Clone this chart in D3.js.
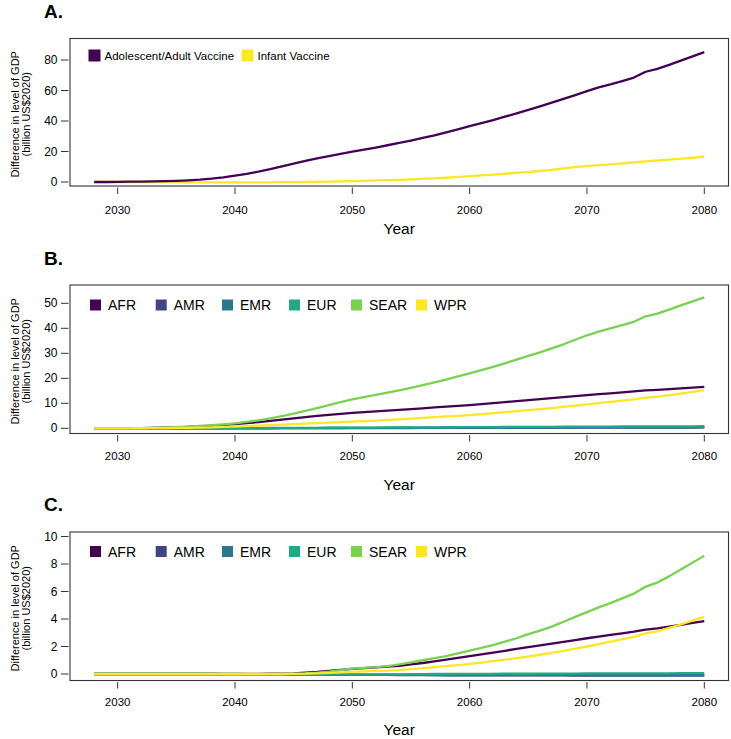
<!DOCTYPE html>
<html><head><meta charset="utf-8">
<script src="https://cdn.jsdelivr.net/npm/d3@7"></script>
<style>
html,body{margin:0;padding:0;background:#fff;}
text{font-family:"Liberation Sans",Arial,Helvetica,sans-serif;fill:#000;}
</style></head>
<body><svg id="chart" width="731" height="739"></svg>
<script>
// ---------------- DATA ----------------
const years = d3.range(2028, 2081);
const xTicks = [2030, 2040, 2050, 2060, 2070, 2080];

// Panel A
const seriesA = ["Adolescent/Adult Vaccine", "Infant Vaccine"];
const colorsA = ["#440154", "#FDE725"];
const A_adult = [0.0,0.0,0.1,0.2,0.3,0.4,0.6,0.8,1.1,1.5,
  2.2,3.1,4.2,5.4,6.8,8.4,10.2,12.1,13.9,15.5,
  17.0,18.5,19.9,21.2,22.6,24.1,25.6,27.2,28.9,30.6,
  32.5,34.5,36.6,38.6,40.6,42.8,45.0,47.3,49.6,52.0,
  54.5,57.0,59.6,62.0,64.0,66.2,68.5,72.3,74.2,76.8,
  79.6,82.4,85.2];
const A_infant = [0,0,0,0,0,-0.1,-0.1,-0.1,-0.2,-0.2,
  -0.2,-0.2,-0.2,-0.2,-0.2,-0.2,-0.1,-0.1,0.0,0.1,
  0.2,0.4,0.6,0.8,1.0,1.2,1.4,1.7,2.0,2.4,
  2.8,3.3,3.8,4.3,4.8,5.4,6.0,6.6,7.2,7.9,
  8.9,9.7,10.4,11.0,11.6,12.2,12.8,13.5,14.1,14.7,
  15.3,15.9,16.6];
const yTicksA = [0, 20, 40, 60, 80];

// Regions (panels B and C)
const regions = ["AFR", "AMR", "EMR", "EUR", "SEAR", "WPR"];
const regionColors = ["#440154", "#414487", "#2A788E", "#22A884", "#7AD151", "#FDE725"];

const B_AFR = [0,0,0,0.05,0.1,0.2,0.3,0.4,0.6,0.8,
  1.0,1.3,1.7,2.1,2.5,3.0,3.5,4.0,4.5,5.0,
  5.4,5.8,6.2,6.5,6.8,7.1,7.4,7.7,8.0,8.4,
  8.7,9.0,9.3,9.7,10.1,10.5,10.9,11.3,11.7,12.1,
  12.5,12.9,13.3,13.7,14.0,14.4,14.8,15.2,15.4,15.7,
  16.0,16.3,16.6];
const B_AMR = [0,0,0,0,0,0,0,0,0,0,
  0,0,0.01,0.02,0.02,0.03,0.04,0.05,0.05,0.06,
  0.07,0.08,0.09,0.1,0.1,0.11,0.12,0.13,0.14,0.15,
  0.15,0.16,0.17,0.18,0.19,0.2,0.2,0.21,0.22,0.23,
  0.24,0.25,0.25,0.26,0.27,0.28,0.29,0.3,0.3,0.31,
  0.32,0.33,0.34];
const B_EMR = [0,0,0,0,0,0,0,0,0.01,0.01,
  0.02,0.03,0.04,0.05,0.06,0.07,0.08,0.09,0.1,0.11,
  0.12,0.13,0.14,0.15,0.16,0.17,0.18,0.19,0.2,0.21,
  0.22,0.23,0.24,0.25,0.26,0.27,0.28,0.29,0.3,0.31,
  0.32,0.33,0.34,0.35,0.36,0.37,0.38,0.39,0.4,0.41,
  0.42,0.43,0.44];
const B_EUR = [0,0,0,0,0,0,0,0.01,0.02,0.03,
  0.04,0.05,0.07,0.09,0.11,0.13,0.15,0.17,0.19,0.21,
  0.23,0.25,0.27,0.29,0.31,0.33,0.35,0.37,0.39,0.41,
  0.43,0.45,0.47,0.49,0.51,0.53,0.55,0.57,0.59,0.61,
  0.63,0.65,0.67,0.69,0.7,0.72,0.74,0.76,0.77,0.78,
  0.79,0.8,0.82];
const B_SEAR = [0,0,0,0.05,0.1,0.2,0.3,0.5,0.7,1.0,
  1.3,1.6,2.0,2.6,3.2,4.0,4.9,5.9,7.0,8.1,
  9.3,10.5,11.6,12.5,13.4,14.3,15.2,16.2,17.3,18.4,
  19.5,20.8,22.0,23.3,24.6,26.0,27.5,29.0,30.4,32.0,
  33.6,35.4,37.2,38.7,40.0,41.3,42.6,44.8,45.9,47.5,
  49.2,50.8,52.4];
const B_WPR = [0,0,0,0,0.02,0.05,0.1,0.15,0.2,0.3,
  0.4,0.55,0.7,0.9,1.1,1.3,1.5,1.7,1.9,2.1,
  2.3,2.5,2.7,2.9,3.1,3.4,3.6,3.9,4.2,4.5,
  4.8,5.0,5.3,5.7,6.1,6.5,6.9,7.3,7.7,8.1,
  8.6,9.1,9.6,10.1,10.6,11.1,11.6,12.3,12.7,13.3,
  13.9,14.6,15.3];
const yTicksB = [0, 10, 20, 30, 40, 50];

const C_AFR = [0,0,0,0,0,0,0,0,0,0,
  0,0,0,0,0.01,0.02,0.03,0.05,0.1,0.15,
  0.22,0.3,0.38,0.43,0.48,0.53,0.6,0.7,0.8,0.92,
  1.04,1.17,1.3,1.43,1.56,1.69,1.82,1.95,2.08,2.21,
  2.34,2.47,2.6,2.72,2.84,2.96,3.08,3.22,3.32,3.45,
  3.58,3.72,3.85];
const C_AMR = [0,0,0,0,0,0,0,0,0,0,
  0,-0.01,-0.01,-0.02,-0.02,-0.03,-0.03,-0.04,-0.04,-0.05,
  -0.05,-0.06,-0.06,-0.07,-0.07,-0.07,-0.08,-0.08,-0.08,-0.08,
  -0.09,-0.09,-0.09,-0.09,-0.1,-0.1,-0.1,-0.1,-0.1,-0.1,
  -0.1,-0.11,-0.11,-0.11,-0.11,-0.11,-0.11,-0.12,-0.12,-0.12,
  -0.12,-0.12,-0.12];
const C_EMR = [0,0,0,0,0,0,0,0,0,0,
  0,-0.01,-0.01,-0.01,-0.02,-0.02,-0.03,-0.03,-0.04,-0.04,
  -0.05,-0.05,-0.06,-0.06,-0.06,-0.07,-0.07,-0.07,-0.07,-0.08,
  -0.08,-0.08,-0.08,-0.08,-0.08,-0.08,-0.08,-0.08,-0.08,-0.08,
  -0.08,-0.08,-0.08,-0.08,-0.08,-0.08,-0.08,-0.08,-0.08,-0.08,
  -0.08,-0.08,-0.08];
const C_EUR = [0,0,0,0,0,0,0,0,0,0,
  0,0,0,-0.01,-0.01,-0.01,-0.02,-0.02,-0.02,-0.03,
  -0.03,-0.03,-0.03,-0.03,-0.02,-0.02,-0.02,-0.01,-0.01,0,
  0,0,0.01,0.01,0.01,0.02,0.02,0.02,0.03,0.03,
  0.03,0.03,0.04,0.04,0.04,0.04,0.05,0.05,0.05,0.05,
  0.06,0.06,0.06];
const C_SEAR = [0,0,0,0,0,0,0,0,0,0,
  0,-0.01,-0.02,-0.02,-0.02,-0.01,0,0.02,0.05,0.1,
  0.18,0.28,0.4,0.45,0.5,0.58,0.7,0.85,1.0,1.15,
  1.3,1.5,1.7,1.9,2.1,2.35,2.6,2.9,3.15,3.45,
  3.8,4.15,4.5,4.85,5.15,5.5,5.85,6.35,6.65,7.1,
  7.6,8.1,8.6];
const C_WPR = [0,0,0,0,0,0,0,0,0,0,
  0,0,0,0,0,0,0,0.01,0.02,0.05,
  0.08,0.12,0.16,0.19,0.22,0.24,0.28,0.35,0.42,0.5,
  0.57,0.65,0.73,0.83,0.93,1.04,1.15,1.27,1.4,1.54,
  1.69,1.84,2.0,2.17,2.35,2.52,2.7,2.95,3.1,3.35,
  3.6,3.88,4.15];
const yTicksC = [0, 2, 4, 6, 8, 10];

const panelTitles = ["A.", "B.", "C."];
const xLabel = "Year";
const yLabel1 = "Difference in level of GDP";
const yLabel2 = "(billion US$2020)";

// ---------------- LAYOUT ----------------
const svg = d3.select("#chart");
const boxL = 70, boxR = 728.5;
const x = d3.scaleLinear().domain([2028, 2080]).range([94.2, 704.3]);

const panels = [
  { title: panelTitles[0], top: 38.5, bottom: 186, y: d3.scaleLinear().domain([0, 80]).range([182, 60]),
    ticks: yTicksA, series: [A_infant, A_adult], colors: [colorsA[1], colorsA[0]],
    legend: seriesA, legendColors: colorsA, legendFont: 11.5, legendX: [88.5, 241.5], legendY: 55.5, sq: 12,
    titleY: 18, tickLabY: 214, yearY: 234 },
  { title: panelTitles[1], top: 285, bottom: 433.5, y: d3.scaleLinear().domain([0, 50]).range([428.3, 303.3]),
    ticks: yTicksB, series: [B_AFR, B_AMR, B_EMR, B_EUR, B_SEAR, B_WPR], colors: regionColors,
    legend: regions, legendColors: regionColors, legendFont: 14, legendX: [90, 155.7, 222, 289, 351, 416], legendY: 305, sq: 11,
    titleY: 265, tickLabY: 459.5, yearY: 490 },
  { title: panelTitles[2], top: 532, bottom: 680.5, y: d3.scaleLinear().domain([0, 10]).range([674, 536.5]),
    ticks: yTicksC, series: [C_AFR, C_AMR, C_EMR, C_EUR, C_SEAR, C_WPR], colors: regionColors,
    legend: regions, legendColors: regionColors, legendFont: 14, legendX: [90, 155.7, 222, 289, 351, 416], legendY: 551.5, sq: 11,
    titleY: 511, tickLabY: 706, yearY: 735 }
];

panels.forEach(p => {
  const g = svg.append("g");
  const y = p.y;

  // lines
  const line = d3.line().x((d, i) => x(years[i])).y(d => y(d)).curve(d3.curveLinear);
  p.series.forEach((s, k) => {
    g.append("path").datum(s).attr("d", line)
      .attr("fill", "none").attr("stroke", p.colors[k]).attr("stroke-width", 2.3)
      .attr("stroke-linejoin", "round").attr("stroke-linecap", "butt");
  });

  // box
  g.append("rect").attr("x", boxL).attr("y", p.top).attr("width", boxR - boxL).attr("height", p.bottom - p.top)
    .attr("fill", "none").attr("stroke", "#333").attr("stroke-width", 1.1);

  // x ticks
  xTicks.forEach(t => {
    g.append("line").attr("x1", x(t)).attr("x2", x(t)).attr("y1", p.bottom + 1.5).attr("y2", p.bottom + 8)
      .attr("stroke", "#333").attr("stroke-width", 1);
    g.append("text").attr("x", x(t)).attr("y", p.tickLabY).attr("text-anchor", "middle")
      .attr("font-size", 11.5).text(t);
  });
  // y ticks
  p.ticks.forEach(t => {
    g.append("line").attr("x1", boxL - 1.5).attr("x2", boxL - 9).attr("y1", y(t)).attr("y2", y(t))
      .attr("stroke", "#333").attr("stroke-width", 1);
    g.append("text").attr("x", 57.5).attr("y", y(t) + 4).attr("text-anchor", "end")
      .attr("font-size", 12).text(t);
  });

  // titles
  g.append("text").attr("x", 44).attr("y", p.titleY).attr("font-size", 19).attr("font-weight", "bold").text(p.title);
  g.append("text").attr("x", (boxL + boxR) / 2).attr("y", p.yearY).attr("text-anchor", "middle")
    .attr("font-size", 15.5).text(xLabel);
  const cy = (p.top + p.bottom) / 2 + 2;
  g.append("text").attr("transform", `translate(19,${cy}) rotate(-90)`).attr("text-anchor", "middle")
    .attr("font-size", 11).text(yLabel1);
  g.append("text").attr("transform", `translate(29.5,${cy}) rotate(-90)`).attr("text-anchor", "middle")
    .attr("font-size", 11).text(yLabel2);

  // legend
  p.legend.forEach((name, k) => {
    const lx = p.legendX[k];
    g.append("rect").attr("x", lx).attr("y", p.legendY - p.sq / 2).attr("width", p.sq).attr("height", p.sq)
      .attr("fill", p.legendColors[k]);
    g.append("text").attr("x", lx + p.sq + (p.legendFont > 12 ? 7 : 4)).attr("y", p.legendY + p.legendFont * 0.36)
      .attr("font-size", p.legendFont).text(name);
  });
});
</script></body></html>
